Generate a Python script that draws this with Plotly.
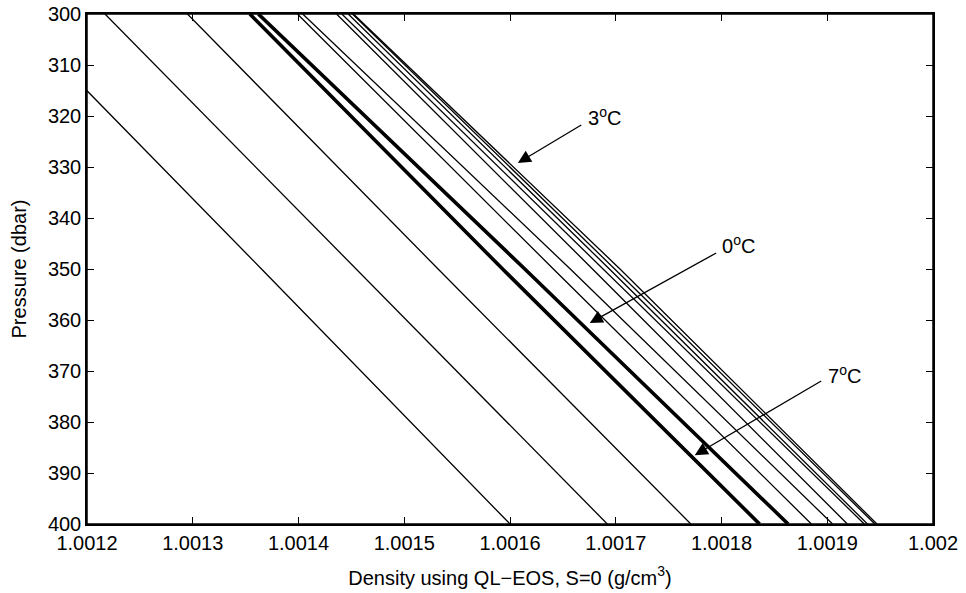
import plotly.graph_objects as go

# Pressure levels (dbar) at which each curve was read
pressure = [300, 350, 400]

# Density (g/cm^3) of each curve at 300, 350 and 400 dbar (left to right at the bottom)
density_at_300 = [1.001129, 1.001217, 1.001295, 1.001354, 1.001362, 1.001399,
                  1.001404, 1.001436, 1.001441, 1.001447, 1.001451, 1.001452]
density_at_350 = [1.001365, 1.001455, 1.001532, 1.001593, 1.001614, 1.001641,
                  1.001657, 1.001678, 1.001688, 1.001694, 1.001699, 1.001704]
density_at_400 = [1.001600, 1.001692, 1.001771, 1.001836, 1.001863, 1.001885,
                  1.001905, 1.001919, 1.001935, 1.001938, 1.001945, 1.001947]

highlighted = [3, 4]  # the 7°C and 0°C curves

x_tick_vals = [1.0012, 1.0013, 1.0014, 1.0015, 1.0016, 1.0017, 1.0018, 1.0019, 1.0020]
x_tick_text = ["1.0012", "1.0013", "1.0014", "1.0015", "1.0016", "1.0017", "1.0018", "1.0019", "1.002"]
y_tick_vals = [300, 310, 320, 330, 340, 350, 360, 370, 380, 390, 400]

# annotation: label, arrow tip (density, pressure), arrow tail (density, pressure), text position
labels = ["3<sup>o</sup>C", "0<sup>o</sup>C", "7<sup>o</sup>C"]
tip_density = [1.0016074, 1.0016754, 1.0017747]
tip_pressure = [329.2, 360.6, 386.5]
tail_density = [1.0016688, 1.0017964, 1.0018957]
tail_pressure = [321.6, 346.7, 371.8]
text_density = [1.0016720, 1.0017990, 1.0018990]
text_pressure = [320.0, 345.2, 370.6]

FONT = "Liberation Sans, Arial, Helvetica, sans-serif"

fig = go.Figure()
for i in range(len(density_at_300)):
    fig.add_trace(go.Scatter(
        x=[density_at_300[i], density_at_350[i], density_at_400[i]],
        y=pressure,
        mode="lines",
        line=dict(color="black", width=3.6 if i in highlighted else 1.3),
        showlegend=False,
        hoverinfo="skip",
    ))

annotations = []
for lab, xd, yd, axd, ayd, txd, tyd in zip(labels, tip_density, tip_pressure,
                                           tail_density, tail_pressure,
                                           text_density, text_pressure):
    annotations.append(dict(
        x=xd, y=yd, ax=axd, ay=ayd, xref="x", yref="y", axref="x", ayref="y",
        text="", showarrow=True, arrowhead=2, arrowsize=2.0, arrowwidth=1.3,
        arrowcolor="black", standoff=0, startstandoff=0,
    ))
    annotations.append(dict(
        x=txd, y=tyd, xref="x", yref="y", text=lab, showarrow=False,
        xanchor="left", yanchor="middle",
        font=dict(family=FONT, size=20, color="black"),
    ))

axis_common = dict(
    showline=True, linecolor="black", linewidth=1.5, mirror="ticks",
    ticks="inside", ticklen=7, tickwidth=1.2, tickcolor="black",
    showgrid=False, zeroline=False, automargin=False,
    tickfont=dict(family=FONT, size=20, color="black"),
)

fig.update_layout(
    width=966, height=593,
    margin=dict(l=87, r=33, t=14, b=69),
    paper_bgcolor="white", plot_bgcolor="white",
    font=dict(family=FONT, size=20, color="black"),
    xaxis=dict(
        range=[1.0012, 1.0020], tickvals=x_tick_vals, ticktext=x_tick_text,
        title=dict(text="Density using QL\u2212EOS, S=0 (g/cm<sup>3</sup>)",
                   font=dict(family=FONT, size=20), standoff=18),
        **axis_common,
    ),
    yaxis=dict(
        range=[400, 300], tickvals=y_tick_vals,
        title=dict(text="Pressure (dbar)", font=dict(family=FONT, size=20), standoff=16),
        **axis_common,
    ),
    annotations=annotations,
    shapes=[dict(type="rect", xref="paper", yref="paper", x0=0, x1=1, y0=0, y1=1,
                 line=dict(color="black", width=1.5), layer="above")],
)

# remove the browser's default page margin so the figure sits at the window's corner
fig.write_html(
    "out.html",
    config={"displayModeBar": False},
    post_script="document.body.style.margin='0px'; document.body.style.overflow='hidden';",
)
